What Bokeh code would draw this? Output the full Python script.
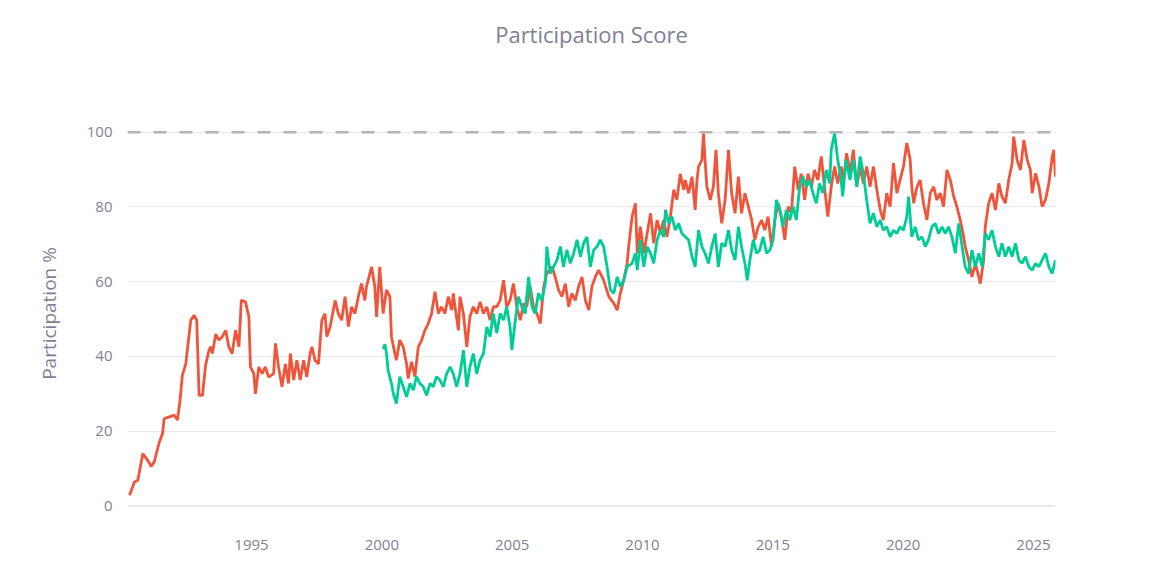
from bokeh.plotting import figure
from bokeh.models import Range1d, FixedTicker, Span, Div
from bokeh.layouts import column
from bokeh.embed import file_html
from bokeh.resources import INLINE

# ---- data (decimal years, participation %) ----
orange_x = [
    1990.32, 1990.51, 1990.64, 1990.83, 1991.02, 1991.15, 1991.27, 1991.46, 1991.59, 1991.65,
    1991.91, 1992.04, 1992.16, 1992.26, 1992.35, 1992.48, 1992.54, 1992.67, 1992.80, 1992.90,
    1992.99, 1993.12, 1993.24, 1993.37, 1993.44, 1993.50, 1993.63, 1993.75, 1993.88, 1994.01,
    1994.13, 1994.26, 1994.39, 1994.52, 1994.61, 1994.77, 1994.90, 1994.96, 1995.09, 1995.15,
    1995.28, 1995.41, 1995.53, 1995.66, 1995.85, 1995.92, 1996.04, 1996.17, 1996.30, 1996.42,
    1996.49, 1996.62, 1996.74, 1996.87, 1997.00, 1997.12, 1997.25, 1997.32, 1997.44, 1997.57,
    1997.70, 1997.82, 1997.89, 1998.02, 1998.21, 1998.33, 1998.46, 1998.59, 1998.72, 1998.84,
    1998.97, 1999.10, 1999.22, 1999.35, 1999.41, 1999.61, 1999.73, 1999.80, 1999.92, 2000.05,
    2000.18, 2000.31, 2000.37, 2000.50, 2000.56, 2000.69, 2000.82, 2000.95, 2001.01, 2001.14,
    2001.27, 2001.40, 2001.53, 2001.65, 2001.78, 2001.91, 2002.04, 2002.17, 2002.29, 2002.42,
    2002.55, 2002.68, 2002.74, 2002.81, 2002.94, 2003.00, 2003.13, 2003.26, 2003.38, 2003.51,
    2003.64, 2003.77, 2003.90, 2004.03, 2004.15, 2004.28, 2004.41, 2004.54, 2004.67, 2004.79,
    2004.92, 2005.05, 2005.18, 2005.31, 2005.44, 2005.56, 2005.69, 2005.82, 2005.95, 2006.08,
    2006.21, 2006.33, 2006.53, 2006.65, 2006.78, 2006.91, 2007.04, 2007.17, 2007.29, 2007.42,
    2007.55, 2007.68, 2007.81, 2007.94, 2008.06, 2008.19, 2008.32, 2008.51, 2008.71, 2008.90,
    2009.03, 2009.15, 2009.28, 2009.41, 2009.47, 2009.60, 2009.73, 2009.80, 2009.92, 2010.05,
    2010.18, 2010.31, 2010.43, 2010.56, 2010.69, 2010.81, 2010.94, 2011.07, 2011.20, 2011.32,
    2011.45, 2011.58, 2011.64, 2011.77, 2011.90, 2012.02, 2012.09, 2012.15, 2012.28, 2012.34,
    2012.40, 2012.47, 2012.60, 2012.72, 2012.82, 2012.91, 2013.04, 2013.17, 2013.30, 2013.42,
    2013.55, 2013.68, 2013.80, 2013.93, 2014.06, 2014.19, 2014.31, 2014.44, 2014.57, 2014.69,
    2014.82, 2014.95, 2015.08, 2015.20, 2015.33, 2015.46, 2015.59, 2015.71, 2015.84, 2015.97,
    2016.09, 2016.22, 2016.35, 2016.48, 2016.60, 2016.73, 2016.86, 2016.98, 2017.11, 2017.24,
    2017.37, 2017.49, 2017.62, 2017.71, 2017.83, 2017.96, 2018.09, 2018.22, 2018.35, 2018.47,
    2018.60, 2018.73, 2018.86, 2018.99, 2019.12, 2019.24, 2019.37, 2019.50, 2019.63, 2019.76,
    2019.88, 2020.01, 2020.14, 2020.27, 2020.33, 2020.40, 2020.53, 2020.65, 2020.78, 2020.91,
    2021.04, 2021.17, 2021.29, 2021.42, 2021.55, 2021.68, 2021.81, 2021.94, 2022.06, 2022.19,
    2022.32, 2022.38, 2022.51, 2022.64, 2022.77, 2022.90, 2022.96, 2023.09, 2023.15, 2023.28,
    2023.41, 2023.54, 2023.67, 2023.79, 2023.92, 2024.05, 2024.18, 2024.24, 2024.37, 2024.50,
    2024.63, 2024.76, 2024.88, 2024.95, 2025.08, 2025.21, 2025.33, 2025.46, 2025.59, 2025.72,
    2025.78, 2025.84,
]
orange_y = [
    2.9, 6.4, 6.9, 14.0, 12.2, 10.6, 11.8, 17.0, 19.4, 23.4,
    24.0, 24.3, 23.0, 28.3, 35.0, 38.0, 41.7, 49.7, 51.0, 49.7,
    29.6, 29.6, 37.7, 41.7, 42.6, 40.8, 46.0, 44.4, 45.3, 47.0,
    42.6, 40.8, 47.0, 42.6, 55.0, 54.6, 50.6, 37.2, 35.4, 30.0,
    37.2, 35.4, 37.2, 34.5, 35.4, 43.5, 37.2, 31.9, 38.0, 32.8,
    40.8, 33.7, 39.0, 33.7, 39.0, 34.5, 40.8, 42.6, 39.0, 38.0,
    49.7, 51.5, 45.3, 48.0, 55.0, 51.5, 49.7, 56.0, 48.0, 53.3,
    51.5, 56.0, 59.5, 55.0, 58.7, 64.0, 58.7, 50.6, 64.0, 51.5,
    57.8, 56.0, 45.3, 40.8, 39.0, 44.4, 42.6, 38.0, 34.1, 38.6,
    34.6, 42.6, 44.4, 47.0, 48.8, 51.5, 57.3, 51.5, 53.3, 51.5,
    56.0, 52.4, 56.9, 53.3, 47.0, 56.0, 51.5, 42.6, 50.6, 53.3,
    51.5, 54.6, 51.5, 53.3, 49.7, 53.3, 53.3, 55.0, 60.4, 53.3,
    55.0, 59.5, 53.3, 49.7, 54.2, 53.3, 58.7, 53.3, 51.5, 48.8,
    58.7, 62.2, 64.0, 61.3, 57.8, 56.0, 59.5, 53.3, 56.9, 55.0,
    58.7, 61.3, 55.0, 52.4, 58.7, 61.3, 63.1, 60.4, 56.0, 54.2,
    52.4, 56.9, 60.4, 64.9, 69.4, 77.4, 81.0, 67.6, 74.7, 67.6,
    73.0, 78.3, 70.3, 76.5, 73.0, 76.5, 72.0, 77.4, 84.6, 81.9,
    88.9, 84.6, 87.2, 83.7, 88.1, 79.2, 87.2, 90.8, 92.6, 99.7,
    92.6, 85.4, 81.9, 85.4, 95.3, 83.7, 75.6, 81.9, 95.3, 83.7,
    78.3, 88.1, 78.3, 83.7, 80.1, 76.5, 71.2, 74.7, 76.5, 73.8,
    77.4, 69.4, 76.5, 81.0, 77.4, 71.2, 80.1, 78.3, 90.8, 84.6,
    88.9, 81.9, 88.9, 85.4, 89.9, 87.2, 93.5, 85.4, 77.4, 85.4,
    90.8, 86.3, 90.8, 87.2, 94.4, 89.0, 95.3, 85.4, 90.8, 86.3,
    90.8, 85.4, 90.8, 84.6, 79.2, 76.5, 83.7, 80.1, 91.7, 83.7,
    87.2, 90.8, 97.1, 92.6, 85.4, 81.0, 85.4, 87.2, 81.0, 76.5,
    83.7, 85.4, 81.9, 83.7, 80.1, 89.9, 87.2, 82.8, 80.1, 76.5,
    72.0, 69.4, 65.8, 61.3, 64.9, 61.3, 59.5, 65.8, 74.7, 81.0,
    83.7, 79.2, 86.3, 82.8, 81.0, 87.2, 91.7, 98.8, 92.6, 89.9,
    97.9, 92.6, 89.9, 83.7, 89.0, 85.4, 80.1, 81.9, 86.3, 93.5,
    95.3, 88.1,
]

green_x = [
    2000.05, 2000.12, 2000.18, 2000.24, 2000.37, 2000.44, 2000.56, 2000.69, 2000.82, 2000.95,
    2001.08, 2001.21, 2001.33, 2001.46, 2001.59, 2001.72, 2001.85, 2001.97, 2002.10, 2002.23,
    2002.36, 2002.49, 2002.62, 2002.74, 2002.87, 2003.00, 2003.13, 2003.26, 2003.38, 2003.51,
    2003.64, 2003.77, 2003.90, 2004.03, 2004.15, 2004.28, 2004.41, 2004.54, 2004.67, 2004.79,
    2004.92, 2004.99, 2005.12, 2005.24, 2005.37, 2005.50, 2005.63, 2005.76, 2005.88, 2006.01,
    2006.14, 2006.27, 2006.33, 2006.46, 2006.59, 2006.72, 2006.85, 2006.97, 2007.10, 2007.23,
    2007.36, 2007.49, 2007.62, 2007.74, 2007.87, 2008.00, 2008.13, 2008.26, 2008.38, 2008.51,
    2008.64, 2008.77, 2008.90, 2009.03, 2009.15, 2009.28, 2009.41, 2009.60, 2009.73, 2009.80,
    2009.92, 2010.05, 2010.18, 2010.31, 2010.43, 2010.56, 2010.69, 2010.81, 2010.88, 2011.01,
    2011.13, 2011.26, 2011.39, 2011.51, 2011.64, 2011.77, 2011.90, 2012.02, 2012.15, 2012.28,
    2012.40, 2012.53, 2012.66, 2012.79, 2012.91, 2013.04, 2013.17, 2013.30, 2013.42, 2013.55,
    2013.68, 2013.80, 2013.93, 2014.02, 2014.12, 2014.25, 2014.38, 2014.50, 2014.63, 2014.76,
    2014.89, 2015.01, 2015.14, 2015.27, 2015.39, 2015.52, 2015.65, 2015.78, 2015.90, 2016.03,
    2016.16, 2016.28, 2016.41, 2016.54, 2016.67, 2016.79, 2016.92, 2017.05, 2017.18, 2017.24,
    2017.37, 2017.49, 2017.62, 2017.68, 2017.81, 2017.96, 2018.09, 2018.22, 2018.35, 2018.47,
    2018.60, 2018.73, 2018.86, 2018.99, 2019.12, 2019.24, 2019.37, 2019.50, 2019.63, 2019.76,
    2019.88, 2020.01, 2020.14, 2020.21, 2020.33, 2020.46, 2020.59, 2020.72, 2020.85, 2020.97,
    2021.10, 2021.23, 2021.36, 2021.49, 2021.62, 2021.74, 2021.87, 2022.00, 2022.13, 2022.26,
    2022.38, 2022.51, 2022.64, 2022.77, 2022.90, 2023.03, 2023.15, 2023.28, 2023.41, 2023.54,
    2023.67, 2023.79, 2023.92, 2024.05, 2024.18, 2024.31, 2024.44, 2024.56, 2024.69, 2024.82,
    2024.95, 2025.08, 2025.21, 2025.33, 2025.46, 2025.59, 2025.72, 2025.84,
]
green_y = [
    42.0, 43.3, 40.8, 36.3, 32.8, 30.1, 27.4, 34.6, 31.9, 29.2,
    32.8, 31.0, 34.6, 32.8, 31.9, 29.6, 32.8, 31.9, 34.6, 33.7,
    31.9, 35.4, 37.2, 35.4, 31.9, 35.4, 41.7, 31.9, 37.2, 40.8,
    35.4, 39.0, 40.8, 47.9, 45.3, 51.5, 46.2, 51.5, 49.7, 53.3,
    47.9, 41.7, 49.7, 56.0, 53.3, 51.5, 61.3, 53.3, 51.5, 56.9,
    55.0, 59.5, 69.4, 62.2, 64.0, 65.8, 69.4, 64.0, 68.5, 64.9,
    67.6, 71.2, 66.7, 70.3, 72.0, 64.0, 68.5, 69.4, 71.2, 69.4,
    64.0, 57.8, 56.9, 61.3, 58.7, 60.4, 64.0, 64.9, 67.6, 63.1,
    71.2, 64.0, 69.4, 67.6, 64.9, 71.2, 73.8, 72.0, 79.2, 75.6,
    77.4, 73.8, 75.6, 72.9, 72.0, 71.2, 66.7, 64.0, 73.8, 69.4,
    67.6, 64.9, 69.4, 72.9, 64.0, 70.3, 69.4, 73.8, 68.5, 65.8,
    74.7, 69.4, 64.9, 60.4, 65.8, 71.2, 67.6, 68.5, 72.0, 67.6,
    68.5, 71.2, 81.9, 79.2, 74.7, 79.2, 76.5, 80.1, 76.5, 85.4,
    88.1, 85.4, 87.2, 83.7, 81.0, 86.3, 83.7, 89.9, 86.3, 95.3,
    99.7, 92.6, 87.2, 82.8, 92.6, 87.2, 92.6, 85.4, 93.5, 89.0,
    81.9, 75.6, 78.3, 74.7, 76.5, 73.8, 74.7, 72.0, 73.8, 72.9,
    74.7, 73.8, 77.4, 82.8, 72.0, 74.7, 71.2, 72.0, 69.4, 71.2,
    74.7, 75.6, 72.9, 74.7, 72.9, 74.7, 72.0, 67.6, 75.6, 69.4,
    64.0, 62.2, 68.5, 64.0, 67.6, 64.0, 72.9, 71.2, 73.8, 69.4,
    66.7, 70.3, 66.7, 69.4, 66.7, 70.3, 65.8, 64.9, 66.7, 64.0,
    63.1, 64.9, 64.0, 65.8, 67.6, 64.0, 62.2, 65.8,
]

x_tick_years = [1995, 2000, 2005, 2010, 2015, 2020, 2025]
y_tick_values = [0, 20, 40, 60, 80, 100]
reference_level = 100
title_text = "Participation Score"

TEXT = "#7f7f96"
FONT = "Open Sans"
HEADER_H = 50

header = Div(
    text=("<div style=\"position:relative; top:22px; margin-left:35px; width:1113px; "
          "text-align:center; font-family:'Open Sans'; font-size:22px; line-height:24px; "
          "color:%s; white-space:nowrap;\">%s</div>") % (TEXT, title_text),
    width=1148, height=HEADER_H, margin=(0, 0, 0, 0),
)

p = figure(
    width=1148, height=561 - HEADER_H,
    x_range=Range1d(1990.244, 2025.844),
    y_range=Range1d(-2, 105),
    output_backend="svg", toolbar_location=None,
    min_border_left=127, min_border_right=93,
    min_border_top=113 - HEADER_H, min_border_bottom=48,
    margin=(0, 0, 0, 0),
)
p.background_fill_color = "white"
p.border_fill_color = "white"
p.outline_line_color = None

p.xgrid.grid_line_color = None
p.ygrid.grid_line_color = "#E5E9F0"
p.ygrid.grid_line_width = 1

for ax in (p.xaxis[0], p.yaxis[0]):
    ax.axis_line_color = None
    ax.major_tick_line_color = None
    ax.minor_tick_line_color = None
    ax.major_label_text_font = FONT
    ax.major_label_text_font_size = "15px"
    ax.major_label_text_color = TEXT

p.xaxis.ticker = FixedTicker(ticks=x_tick_years)
p.yaxis.ticker = FixedTicker(ticks=y_tick_values)
p.xaxis.major_label_standoff = 20
p.yaxis.major_label_standoff = 9

p.yaxis.axis_label = "Participation %"
p.yaxis.axis_label_text_font = FONT
p.yaxis.axis_label_text_font_size = "19px"
p.yaxis.axis_label_text_font_style = "normal"
p.yaxis.axis_label_text_color = TEXT
p.yaxis.axis_label_standoff = 22

p.add_layout(Span(location=0, dimension="width", line_color="#E5E9F0", line_width=2))

p.line(orange_x, orange_y, line_color="#EF553B", line_width=2.8)
p.line(green_x, green_y, line_color="#00CC96", line_width=2.8)

p.add_layout(Span(location=reference_level, dimension="width",
                  line_color="#B4B4B4", line_width=2.5, line_dash="13 13"))

layout = column(header, p, spacing=0)

open("out.html", "w").write(file_html(layout, INLINE))
